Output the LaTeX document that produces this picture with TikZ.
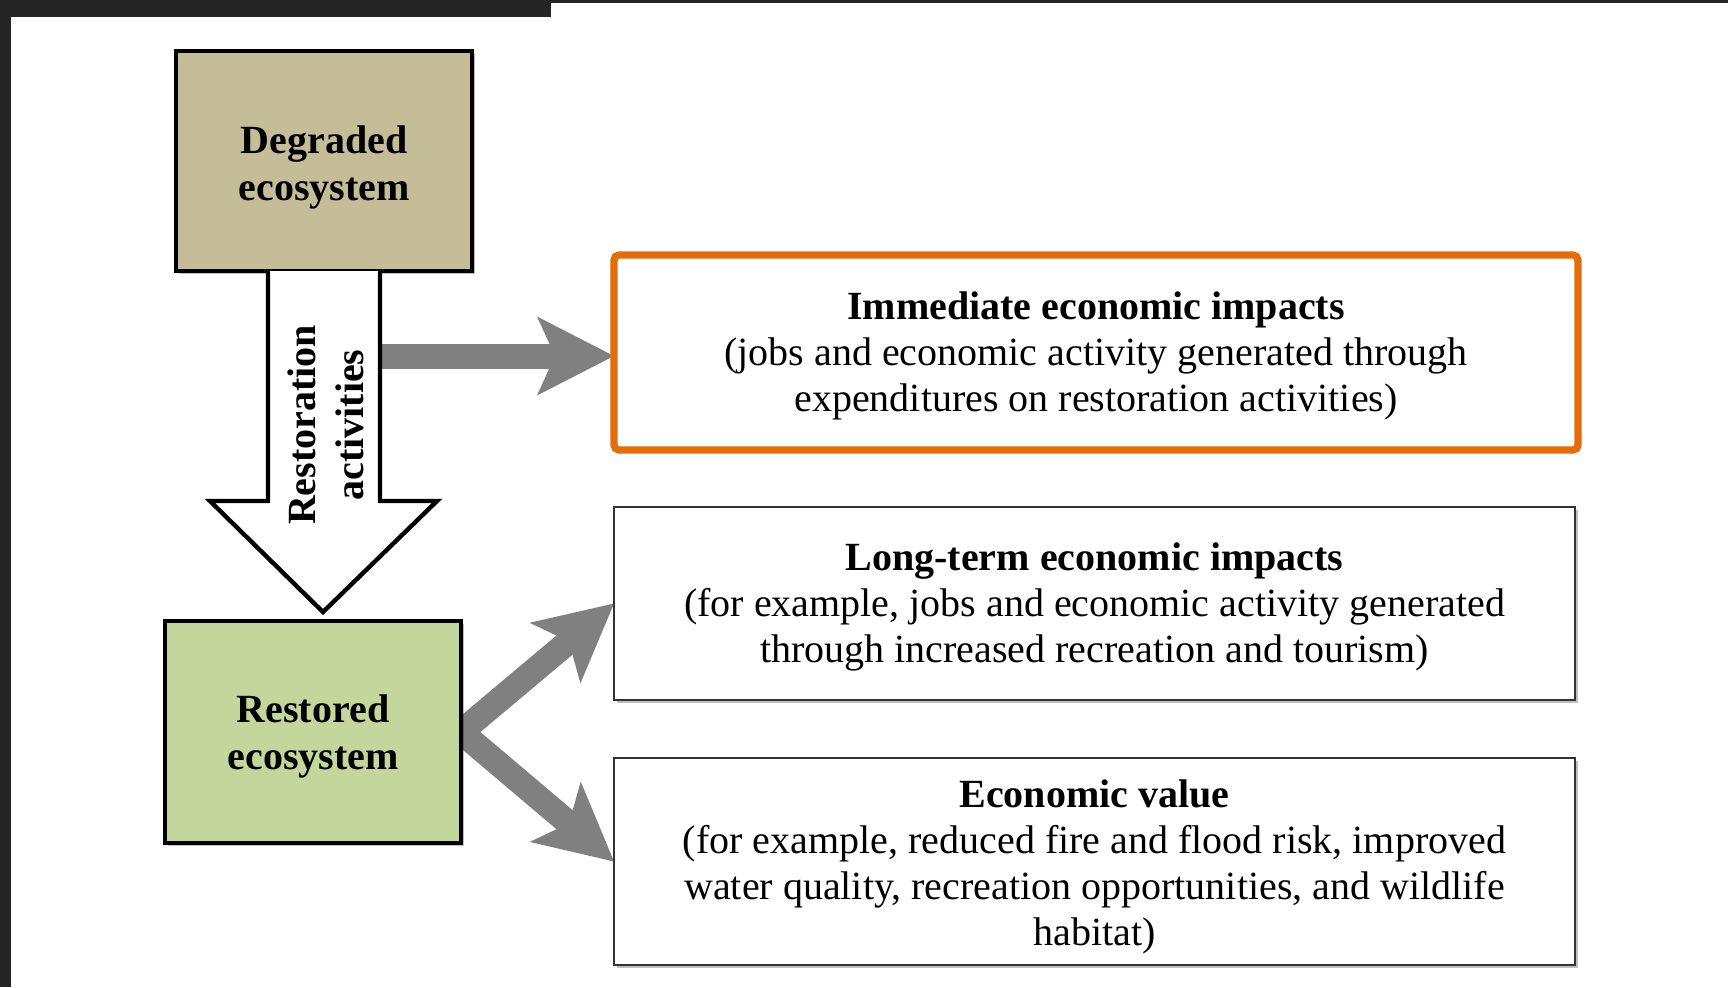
\documentclass[tikz,border=0pt]{standalone}
\usepackage{fontspec}
\setmainfont{Liberation Serif}
\usetikzlibrary{arrows.meta,backgrounds,shadows}
\definecolor{tanfill}{HTML}{C4BD97}
\definecolor{greenfill}{HTML}{C3D69B}
\definecolor{orangeline}{HTML}{E46C0A}
\definecolor{arrowgray}{HTML}{808080}
\definecolor{framedark}{HTML}{252525}
\definecolor{boxline}{HTML}{333333}
\newcommand{\lowerby}[1]{\rule{0pt}{#1}}
\begin{document}
\begin{tikzpicture}[x=0.5bp,y=-0.5bp,
  every node/.style={inner sep=0pt, outer sep=0pt},
  softshadow/.style={drop shadow={shadow xshift=1.5bp, shadow yshift=-1.5bp, fill=black, opacity=0.25}},
  eco/.style={draw=black, line width=2.2bp, align=center, minimum width=148bp,
    font=\bfseries\fontsize{20bp}{23.5bp}\selectfont, softshadow},
  impact/.style={draw=boxline, line width=1.3bp, fill=white, align=center,
    minimum width=480.5bp, font=\fontsize{20bp}{23bp}\selectfont, softshadow},
  garrow/.style={draw=arrowgray, line width=12.5bp,
    -{Stealth[length=38.5bp,width=39.5bp,inset=9bp,line width=0pt]}},
  blockarrow/.style={draw=black, fill=white, line width=2.2bp, line join=miter},
]
\useasboundingbox (0,0) rectangle (1728,987);

% boxes
\node[eco, fill=tanfill, minimum height=110bp] (degraded) at (324,161) {\lowerby{20.3bp}Degraded\\ecosystem};
\node[eco, fill=greenfill, minimum height=111bp] (restored) at (313,732) {\lowerby{18.1bp}Restored\\ecosystem};

\node[impact, draw=orangeline, line width=3.6bp, rounded corners=2.5bp, minimum width=482bp, minimum height=97.5bp]
  (immediate) at (1096,352.5)
  {\lowerby{17.2bp}\textbf{Immediate economic impacts}\\(jobs and economic activity generated through\\expenditures on restoration activities)};
\node[impact, minimum height=96.5bp] (longterm) at (1094.5,603.5)
  {\lowerby{17.2bp}\textbf{Long-term economic impacts}\\(for example, jobs and economic activity generated\\through increased recreation and tourism)};
\node[impact, minimum height=103.5bp] (value) at (1094.5,861.5)
  {\lowerby{19.2bp}\textbf{Economic value}\\(for example, reduced fire and flood risk, improved\\water quality, recreation opportunities, and wildlife\\habitat)};

% block arrow: restoration activities
\draw[blockarrow] (268,271) -- (268,501) -- (210,501) -- (323,612) -- (437,501) -- (380,501) -- (380,271);
\node[rotate=90, align=center, font=\bfseries\fontsize{20bp}{24bp}\selectfont] (restlabel) at (326,425) {Restoration\\activities};
\coordinate (ha) at (380,356);

\begin{scope}[on background layer]
  \fill[white] (0,0) rectangle (1728,987);
  \fill[framedark] (0,0) rectangle (551,17);
  \fill[framedark] (0,0) rectangle (11,987);
  \fill[framedark] (0,0) rectangle (1728,3);
  \draw[garrow] (ha) -- (ha -| immediate.west);
  \draw[garrow, shorten <=-8bp] (restored.east) -- (longterm.west);
  \draw[garrow, shorten <=-8bp] (restored.east) -- (value.west);
\end{scope}
\end{tikzpicture}
\end{document}
